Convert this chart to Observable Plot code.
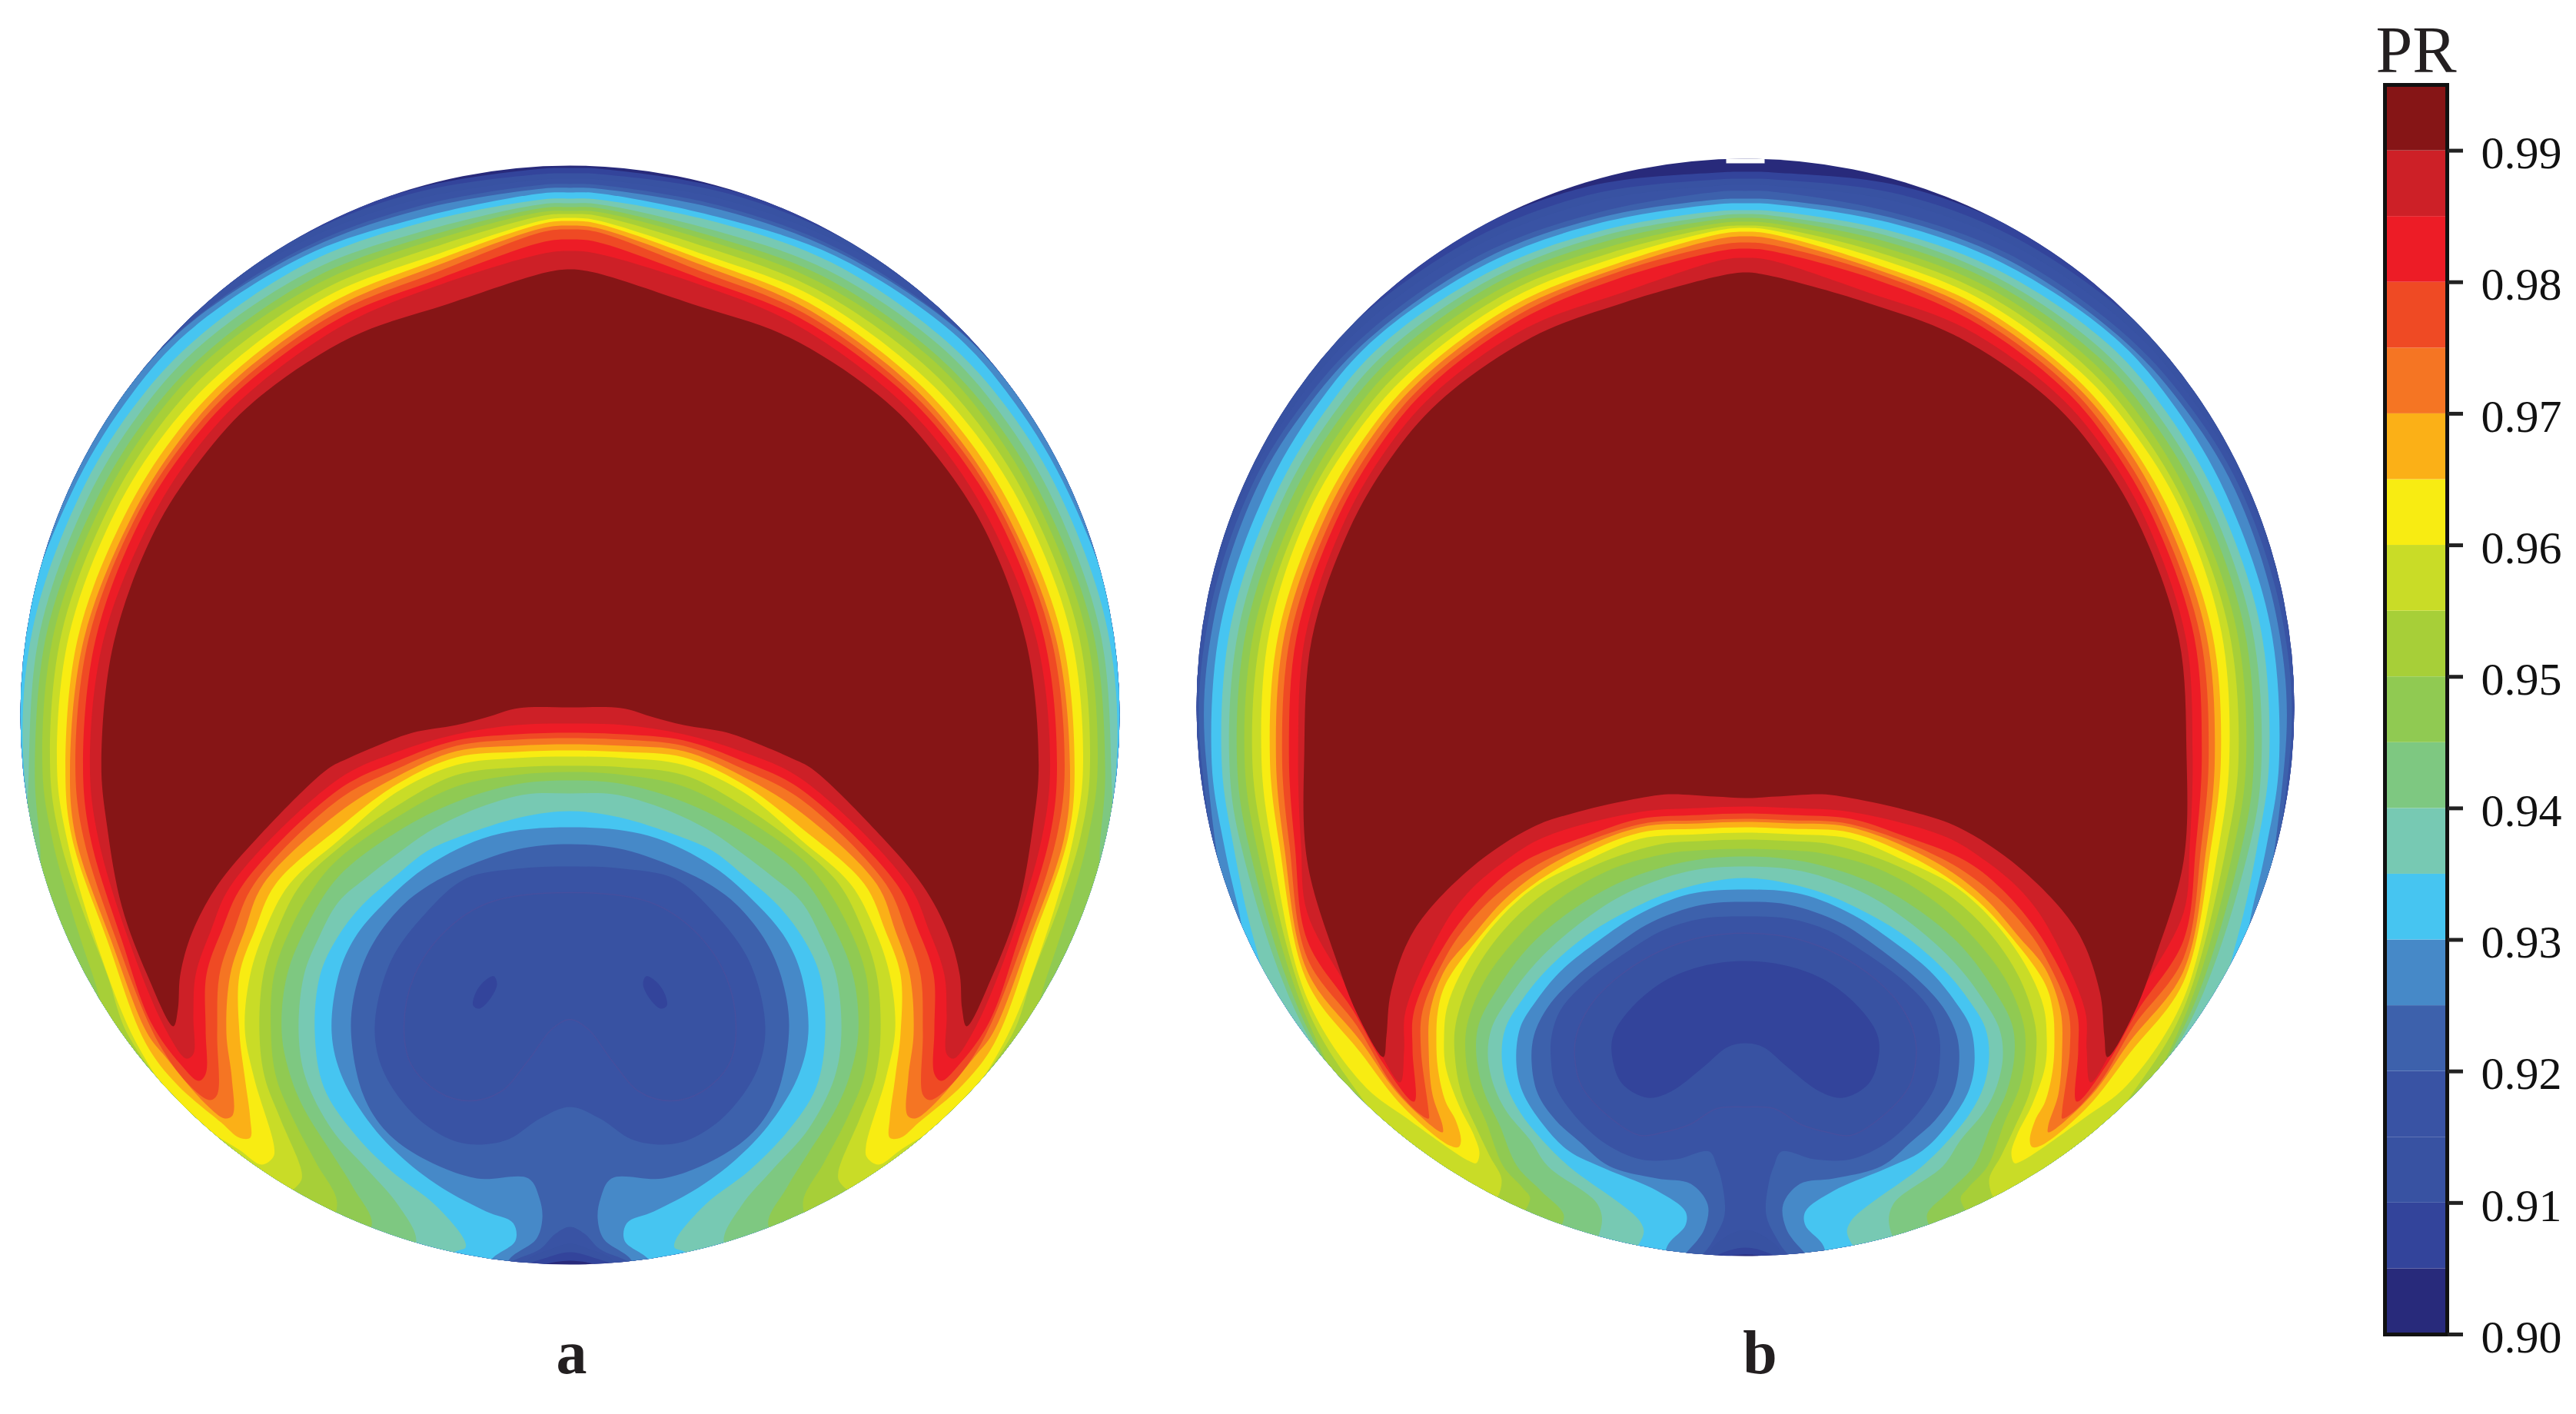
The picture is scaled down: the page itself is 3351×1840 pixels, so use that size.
<!DOCTYPE html>
<html><head><meta charset="utf-8">
<script src="https://cdn.jsdelivr.net/npm/d3@7"></script>
<script src="https://cdn.jsdelivr.net/npm/@observablehq/plot@0.6"></script>
<style>
html,body{margin:0;background:#fff}
#stage{position:relative;width:3351px;height:1840px;overflow:hidden}
#stage svg{position:absolute;background:transparent;overflow:visible}
</style></head><body><div id="stage"></div>
<script>
const levels=[.90,.905,.91,.915,.92,.925,.93,.935,.94,.945,.95,.955,.96,.965,.97,.975,.98,.985,.99];
const colors=["#282a7b","#33449b","#3852a2","#3953a4","#3d61ac","#4689c8","#46c5f1","#77c9b3","#7ec881","#90ca52","#a7cf38","#c9dc27","#f8ec12","#fbb017","#f57523","#ef4a24","#ed1c26","#cd2027","#861516"];
const tickValues=[.90,.91,.92,.93,.94,.95,.96,.97,.98,.99];
const ringAngles=[0,3,16.5,30,45,55,66,81,96];

const aRing=[
[712,712,714,720,730,730,730,730,730],[705,705,709,715,730,730,730,730,730],[698,698,700,708,722,726,730,730,730],[691,691,691,700,712,718,725,730,730],
[686,686,686,696,711,716,722,730,735],[680,680,676,690,704,707,710,722,735],[672,672,669,680,690,695,699,708,714],[666,666,658,669,680,684,688,698,708],
[661,661,650,659,668,673,677,689,700],[656,656,643,650,660,664,668,680,690],[652,651,634,640,648,653,658,670,680],[647,645,624,630,636,642,648,660,671],
[643,641,617,620,625,630,635,648,660],[637,635,610,612,617,621,626,640,654],[632,630,602,605,610,615,621,634,647],[619,617,593,597,603,608,614,625,637],
[604,602,585,587,592,597,602,615,628],[580,577,558,568,579,584,591,601,613]];
const aLower=[
[[-600,480],[-300,700],[-120,735],[0,710]],
[[-600,480],[-300,700],[-80,720],[-40,709],[0,699]],
[[-600,480],[-300,700],[-75,725],[-50,705],[-25,695],[0,688]],
[[-600,480],[-300,700],[-90,725],[-75,711],[-39,695],[-19,675],[0,666]],
[[-600,480],[-300,720],[-100,730],[-75,704],[-44,682],[-36,655],[-40,628],[-54,603],[-121,603],[-187,579],[-238,543],[-269,494],[-285,405],[-274,338],[-252,290],[-217,247],[-186,223],[-148,203],[-70,175],[0,168]],
[[-600,480],[-300,720],[-120,730],[-100,706],[-71,684],[-74,661],[-109,646],[-167,615],[-215,579],[-258,534],[-296,472],[-310,414],[-301,338],[-280,290],[-244,247],[-186,197],[-102,157],[0,146]],
[[-661,310],[-600,480],[-330,720],[-170,730],[-150,699],[-136,693],[-138,682],[-176,637],[-234,592],[-282,543],[-320,485],[-332,414],[-325,338],[-303,290],[-270,247],[-224,207],[-186,177],[-148,160],[-64,133],[0,125]],
[[-700,230],[-600,480],[-370,700],[-220,720],[-200,684],[-224,637],[-263,592],[-310,539],[-344,472],[-353,414],[-346,338],[-327,290],[-301,243],[-263,210],[-224,180],[-186,153],[-148,133],[-109,117],[-56,103],[0,102]],
[[-690,160],[-680,260],[-560,500],[-300,700],[-258,664],[-282,615],[-310,570],[-344,516],[-363,472],[-375,414],[-368,338],[-340,270],[-301,210],[-225,152],[-148,113],[-70,90],[0,85]],
[[-674,159],[-650,249],[-621,338],[-597,405],[-480,560],[-320,670],[-303,635],[-330,583],[-358,530],[-382,472],[-389,414],[-385,338],[-362,275],[-330,220],[-301,187],[-225,133],[-148,93],[-70,78],[0,74]],
[[-664,159],[-636,249],[-602,338],[-574,418],[-470,550],[-380,625],[-351,608],[-349,595],[-377,525],[-397,472],[-404,414],[-399,338],[-380,278],[-350,220],[-301,173],[-225,118],[-148,78],[-70,68],[0,66]],
[[-655,159],[-617,293],[-564,427],[-502,516],[-430,566],[-401,585],[-386,575],[-385,561],[-411,472],[-423,409],[-416,338],[-396,278],[-365,220],[-301,163],[-225,100],[-148,65],[-70,56],[0,54]],
[[-648,159],[-602,293],[-552,427],[-511,481],[-454,530],[-430,550],[-416,550],[-416,525],[-423,472],[-430,414],[-430,338],[-410,280],[-383,220],[-301,147],[-225,90],[-148,55],[-70,48],[0,46]],
[[-643,159],[-597,293],[-550,414],[-526,445],[-473,507],[-449,525],[-439,521],[-440,472],[-447,414],[-442,338],[-423,280],[-399,220],[-301,127],[-225,80],[-148,47],[-70,40],[0,38]],
[[-633,159],[-590,293],[-535,427],[-492,485],[-468,501],[-459,494],[-459,414],[-456,338],[-437,280],[-411,220],[-301,110],[-225,70],[-148,40],[-70,32],[0,30]],
[[-624,159],[-583,293],[-545,400],[-507,454],[-483,476],[-474,467],[-474,409],[-473,338],[-453,280],[-425,220],[-301,97],[-225,60],[-148,33],[-70,25],[0,23]],
[[-614,159],[-574,293],[-526,409],[-499,447],[-490,441],[-490,391],[-487,338],[-467,280],[-440,220],[-301,83],[-225,48],[-148,25],[-70,13],[0,11]],
[[-602,146],[-583,249],[-550,338],[-516,405],[-510,382],[-507,338],[-492,284],[-459,222],[-406,159],[-315,70],[-290,57],[-251,40],[-205,23],[-148,13],[-109,3],[-67,-9],[0,-10]]];
const aBlobs=[
{after:.92,level:.915,half:[[0,197],[-70,200],[-136,213],[-187,257],[-233,320],[-254,405],[-243,463],[-202,521],[-156,552],[-121,559],[-80,552],[-39,525],[0,510]]},
{after:.92,level:.91,half:[[0,231],[-105,244],[-161,280],[-202,338],[-216,405],[-207,454],[-172,490],[-131,502],[-90,490],[-54,449],[-24,409],[0,396]],faint:true}];
const aEye=[[-99,340],[-95,350],[-103,368],[-118,382],[-126,378],[-122,360],[-110,345]];

const bRing=[
[697,697,708,716,730,730,730,730,730],[688,688,697,705,714,722,730,730,730],[680,680,687,695,703,706,710,713,716],[672,672,672,682,692,698,704,708,711],
[662,662,665,675,685,691,697,701,705],[656,656,658,668,680,682,684,691,698],[647,647,648,657,668,669,671,678,685],[642,641,641,648,657,658,660,667,675],
[637,636,633,640,647,648,650,657,665],[632,631,625,631,637,638,639,647,655],[627,626,617,622,627,628,630,637,645],[624,622,609,613,617,619,622,627,633],
[619,617,601,604,607,607,608,615,622],[613,611,595,597,600,600,600,607,614],[605,603,590,590,593,592,592,599,606],[597,595,582,583,586,585,585,591,597],
[585,583,563,570,575,575,575,580,585],[566,563,550,556,563,564,565,571,577]];
const bLower=[
[[-600,480],[-300,700],[-120,735],[0,712]],
[[-600,480],[-300,700],[-80,725],[0,703]],
[[-600,480],[-300,700],[-60,730],[-40,700],[0,680]],
[[-600,480],[-300,710],[-100,740],[-56,712],[-40,690],[-27,660],[-31,616],[-37,597],[-47,578],[-90,588],[-137,588],[-183,567],[-223,530],[-247,493],[-253,457],[-252,427],[-240,393],[-207,357],[-157,320],[-107,290],[-57,275],[0,272]],
[[-600,480],[-300,720],[-110,735],[-71,703],[-53,678],[-49,647],[-71,620],[-115,613],[-177,597],[-216,565],[-247,537],[-270,503],[-278,463],[-275,427],[-257,390],[-223,353],[-173,313],[-123,280],[-57,257],[0,253]],
[[-678,180],[-660,260],[-640,340],[-480,590],[-120,740],[-100,698],[-78,674],[-78,656],[-115,629],[-183,600],[-230,577],[-263,543],[-290,500],[-298,463],[-293,417],[-273,383],[-240,343],[-190,303],[-140,270],[-73,243],[0,237]],
[[-666,180],[-640,300],[-600,420],[-480,590],[-180,730],[-133,687],[-137,669],[-230,597],[-267,560],[-293,527],[-310,493],[-317,453],[-312,417],[-290,380],[-257,340],[-207,297],[-157,267],[-90,238],[0,222]],
[[-656,180],[-570,426],[-420,620],[-220,720],[-188,678],[-192,647],[-257,597],[-280,563],[-310,527],[-327,493],[-335,453],[-330,417],[-307,377],[-273,333],[-223,287],[-157,243],[-73,213],[0,207]],
[[-646,180],[-570,417],[-450,590],[-270,700],[-236,663],[-265,630],[-297,597],[-320,543],[-340,500],[-350,453],[-347,413],[-323,367],[-283,313],[-230,267],[-157,225],[-73,200],[0,194]],
[[-636,180],[-570,406],[-480,560],[-320,680],[-280,640],[-290,625],[-315,597],[-337,540],[-357,493],[-364,453],[-362,413],[-340,357],[-300,303],[-247,253],[-173,210],[-100,190],[-60,186],[0,184]],
[[-626,180],[-570,392],[-505,500],[-400,625],[-330,645],[-317,616],[-333,583],[-350,547],[-370,500],[-378,453],[-377,413],[-357,353],[-317,293],[-263,243],[-190,203],[-110,178],[-60,174],[0,172]],
[[-616,180],[-570,379],[-497,491],[-440,535],[-360,590],[-350,593],[-346,580],[-353,557],[-373,517],[-390,467],[-392,430],[-388,390],[-367,340],[-327,283],[-273,233],[-208,200],[-137,171],[-60,165],[0,163]],
[[-606,180],[-570,357],[-500,450],[-445,520],[-385,570],[-373,572],[-370,563],[-377,537],[-390,513],[-400,470],[-402,430],[-400,395],[-390,360],[-347,300],[-297,247],[-227,200],[-137,163],[-60,158],[0,156]],
[[-600,180],[-570,343],[-500,435],[-450,505],[-394,553],[-394,544],[-407,504],[-412,446],[-410,395],[-390,340],[-357,300],[-310,247],[-245,200],[-137,156],[-60,151],[0,149]],
[[-593,180],[-570,326],[-505,415],[-460,490],[-425,528],[-412,535],[-412,526],[-422,446],[-420,395],[-390,325],[-367,290],[-323,243],[-262,200],[-137,152],[-60,147],[0,145]],
[[-586,180],[-570,303],[-510,395],[-470,465],[-431,513],[-433,446],[-431,395],[-390,307],[-340,243],[-287,200],[-200,165],[-137,145],[-60,140],[0,138]],
[[-578,180],[-570,267],[-515,370],[-480,440],[-449,488],[-444,446],[-442,395],[-390,280],[-357,237],[-313,200],[-262,169],[-137,136],[-60,131],[0,129]],
[[-570,200],[-533,326],[-504,401],[-471,455],[-467,428],[-461,370],[-431,290],[-357,209],[-277,156],[-218,136],[-137,118],[-100,113],[-40,116],[0,118]]];
const bBlobs=[
{after:.915,level:.91,half:[[-27,295],[-73,303],[-123,323],[-173,357],[-203,390],[-220,427],[-222,457],[-213,493],[-177,533],[-137,557],[-107,553],[-73,543],[-37,522],[0,520]],faint:true},
{after:.915,level:.905,half:[[0,330],[-57,337],[-107,357],[-150,393],[-172,427],[-173,457],[-160,490],[-127,508],[-97,500],[-57,470],[-23,442],[0,437]]}];
const bNotch=[[-25,-722],[-25,-708],[25,-708],[25,-722]];

function mirrorHalf(half){
  const back=half.filter(p=>Math.abs(p[0])>1e-6).slice().reverse().map(p=>[-p[0],p[1]]);
  return half.concat(back);
}
function buildRows(ring,lower,blobs,eye){
  const rows=[];let id=0;
  const add=(level,pts,faint)=>{id++;for(const p of pts)rows.push({x:p[0],y:p[1],level,shape:id,faint:!!faint});};
  levels.slice(1).forEach((lv,i)=>{
    const outer=ringAngles.map((a,k)=>{const t=a*Math.PI/180;return [-ring[i][k]*Math.sin(t),-ring[i][k]*Math.cos(t)];});
    add(lv,mirrorHalf(outer.concat(lower[i])));
    for(const b of blobs) if(b.after===lv) add(b.level,mirrorHalf(b.half),b.faint);
    if(eye&&lv===.92){add(.905,eye);add(.905,eye.map(p=>[-p[0],p[1]]));}
  });
  return rows;
}
const color={type:"ordinal",domain:levels,range:colors};
const stage=document.getElementById("stage");

function panel({rows,cx,cy,R,label,labelX,labelY,notch}){
  const marks=[
    Plot.dot([0],{x:()=>0,y:()=>0,r:R,fill:()=>.90,stroke:"none"}),
    Plot.line(rows,{x:"x",y:"y",z:"shape",fill:"level",stroke:"none",curve:"catmull-rom-closed"}),
    Plot.line(rows.filter(d=>d.faint),{x:"x",y:"y",z:"shape",stroke:"#45509f",strokeWidth:1.5,curve:"catmull-rom-closed"})
  ];
  if(notch) marks.push(Plot.line(notch,{x:d=>d[0],y:d=>d[1],fill:"white",stroke:"none"}));
  marks.push(Plot.text([label],{x:()=>labelX,y:()=>labelY,text:d=>d,fontFamily:"Liberation Serif",fontWeight:"bold",fontSize:80,fill:"#231f20",lineAnchor:"bottom"}));
  const p=Plot.plot({width:1500,height:1650,margin:0,
    x:{domain:[-750,750],range:[0,1500],axis:null},
    y:{domain:[-750,900],range:[0,1650],axis:null},
    color,marks});
  p.style.left=(cx-750)+"px";p.style.top=(cy-750)+"px";
  const sx=p.scale("x"),sy=p.scale("y"),id="clip-"+label;
  const s=d3.select(p);
  s.insert("defs",":first-child").append("clipPath").attr("id",id).append("circle")
    .attr("cx",sx.apply(0)).attr("cy",sy.apply(0)).attr("r",R);
  s.selectAll('g[aria-label="line"]').attr("clip-path",`url(#${id})`);
  stage.appendChild(p);
}
panel({rows:buildRows(aRing,aLower,aBlobs,aEye),cx:741,cy:930,R:715,label:"a",labelX:2,labelY:856});
panel({rows:buildRows(bRing,bLower,bBlobs,null),cx:2270,cy:920,R:714,label:"b",labelX:19,labelY:866,notch:bNotch});

const bands=levels.map((lo,i)=>({lo,hi:i<levels.length-1?levels[i+1]:.995}));
const axisFont={fontSize:60,fontFamily:"Liberation Serif",fill:"#111"};
const bar=Plot.plot({width:351,height:1840,marginLeft:102,marginRight:168,marginTop:110,marginBottom:104,
  x:{domain:[0,1],axis:null},
  y:{domain:[.90,.995],axis:null},
  color,
  marks:[
    Plot.rect(bands,{x1:()=>0,x2:()=>1,y1:"lo",y2:"hi",fill:"lo"}),
    Plot.frame({stroke:"#111",strokeWidth:5}),
    Plot.axisY({anchor:"right",ticks:tickValues,tickFormat:()=>"",tickSize:20,label:null,stroke:"#222",strokeWidth:5}),
    Plot.axisY({anchor:"right",ticks:tickValues,tickFormat:d3.format(".2f"),tickSize:0,tickPadding:44,dy:4,label:null,...axisFont}),
    Plot.text(["PR"],{x:()=>.5,y:()=>.995,dy:-17,text:d=>d,lineAnchor:"bottom",fontFamily:"Liberation Serif",fontSize:86,fill:"#231f20"})
  ]});
bar.style.left="3000px";bar.style.top="0px";
stage.appendChild(bar);
</script></body></html>
